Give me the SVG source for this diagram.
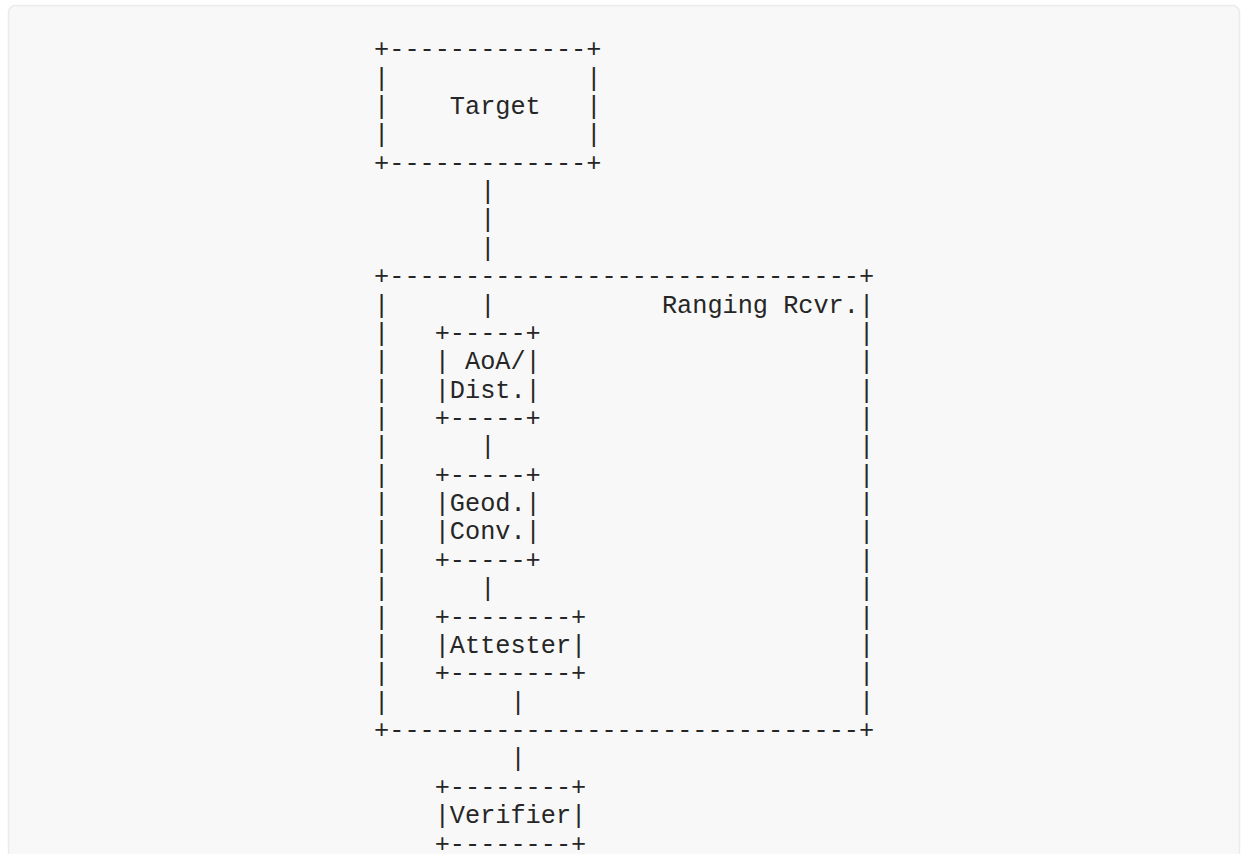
<svg xmlns="http://www.w3.org/2000/svg" width="1241" height="854" viewBox="0 0 1241 854" xml:space="preserve">
<style>
text { font-family: "Liberation Mono", "DejaVu Sans Mono", monospace; font-size: 25.25px; fill: #262626; white-space: pre; }
.l { } 
</style>
<rect x="0" y="0" width="1241" height="854" fill="#ffffff"/>
<rect x="8.5" y="5.5" width="1231" height="870" rx="7" fill="#f8f8f8" stroke="#ebebeb" stroke-width="1.5"/>
<g id="target">
<text x="374.1" y="57.2">+-------------+</text>
<text x="374.1" y="85.57">|             |</text>
<text x="374.1" y="113.94">|    Target   |</text>
<text x="374.1" y="142.31">|             |</text>
<text x="374.1" y="170.68">+-------------+</text>
</g>
<g id="ranging-rcvr">
<text x="374.1" y="284.16">+-------------------------------+</text>
<text x="374.1" y="312.53">|</text>
<text x="661.95" y="312.53">Ranging Rcvr.|</text>
<text x="374.1" y="340.9">|</text><text x="858.9" y="340.9">|</text>
<text x="374.1" y="369.27">|</text><text x="858.9" y="369.27">|</text>
<text x="374.1" y="397.64">|</text><text x="858.9" y="397.64">|</text>
<text x="374.1" y="426.01">|</text><text x="858.9" y="426.01">|</text>
<text x="374.1" y="454.38">|</text><text x="858.9" y="454.38">|</text>
<text x="374.1" y="482.75">|</text><text x="858.9" y="482.75">|</text>
<text x="374.1" y="511.12">|</text><text x="858.9" y="511.12">|</text>
<text x="374.1" y="539.49">|</text><text x="858.9" y="539.49">|</text>
<text x="374.1" y="567.86">|</text><text x="858.9" y="567.86">|</text>
<text x="374.1" y="596.23">|</text><text x="858.9" y="596.23">|</text>
<text x="374.1" y="624.6">|</text><text x="858.9" y="624.6">|</text>
<text x="374.1" y="652.97">|</text><text x="858.9" y="652.97">|</text>
<text x="374.1" y="681.34">|</text><text x="858.9" y="681.34">|</text>
<text x="374.1" y="709.71">|</text><text x="858.9" y="709.71">|</text>
<text x="374.1" y="738.08">+-------------------------------+</text>
</g>
<g id="aoa-dist">
<text x="434.7" y="340.9">+-----+</text>
<text x="434.7" y="369.27">| AoA/|</text>
<text x="434.7" y="397.64">|Dist.|</text>
<text x="434.7" y="426.01">+-----+</text>
</g>
<g id="geod-conv">
<text x="434.7" y="482.75">+-----+</text>
<text x="434.7" y="511.12">|Geod.|</text>
<text x="434.7" y="539.49">|Conv.|</text>
<text x="434.7" y="567.86">+-----+</text>
</g>
<g id="attester">
<text x="434.7" y="624.6">+--------+</text>
<text x="434.7" y="652.97">|Attester|</text>
<text x="434.7" y="681.34">+--------+</text>
</g>
<g id="verifier">
<text x="434.7" y="794.82">+--------+</text>
<text x="434.7" y="823.19">|Verifier|</text>
<text x="434.7" y="851.56">+--------+</text>
</g>
<g id="connectors">
<text x="480.15" y="199.05">|</text>
<text x="480.15" y="227.42">|</text>
<text x="480.15" y="255.79">|</text>
<text x="480.15" y="312.53">|</text>
<text x="480.15" y="454.38">|</text>
<text x="480.15" y="596.23">|</text>
<text x="510.45" y="709.71">|</text>
<text x="510.45" y="766.45">|</text>
</g>
</svg>
